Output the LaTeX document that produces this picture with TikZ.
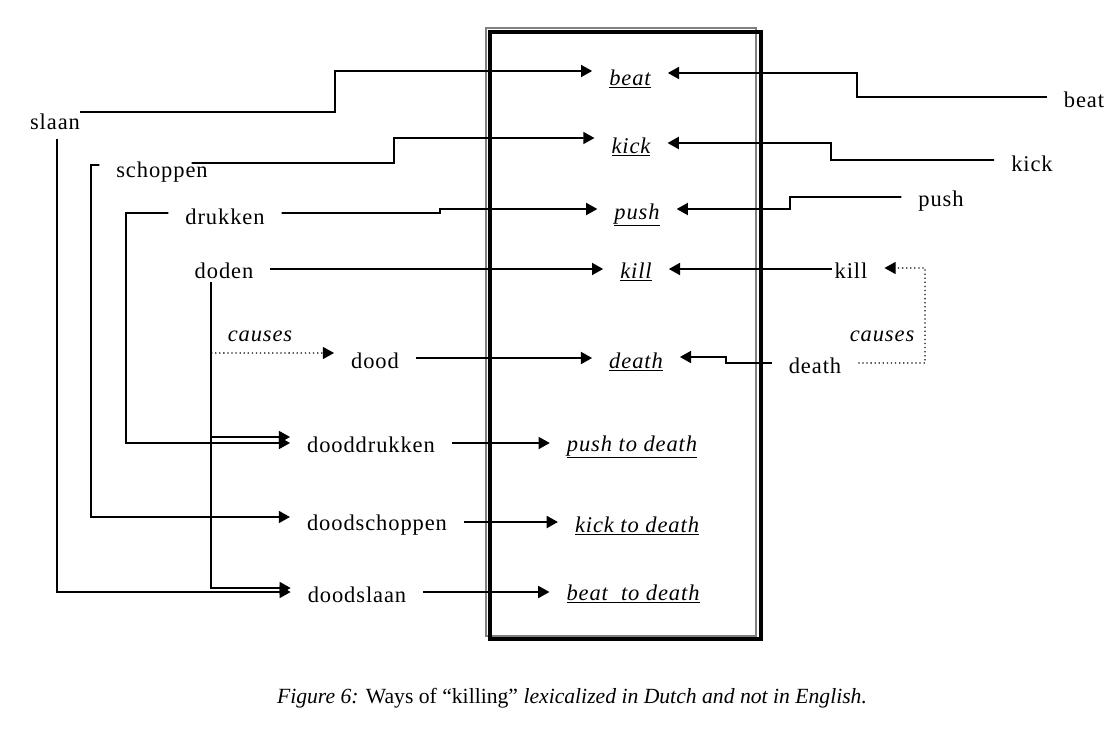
\documentclass[tikz,border=0pt]{standalone}
\usepackage{fontspec}
\setmainfont{Liberation Serif}
\newfontfamily\wordfont{Liberation Serif}[LetterSpace=4]
\usepackage{tikz}
\usetikzlibrary{arrows.meta}

\begin{document}
\begin{tikzpicture}[x=0.025cm,y=-0.025cm,
		word/.style={inner xsep=0.42cm,inner ysep=2pt,font=\wordfont\fontsize{16}{19}\selectfont},
		gloss/.style={word,font=\wordfont\fontsize{16}{19}\selectfont\itshape},
		link/.style={line width=1.3pt},
		arr/.style={link,-{Triangle[length=0.28cm,width=0.3cm]}},
		cause/.style={line width=0.9pt,dotted,-{Triangle[length=0.28cm,width=0.3cm]}}]
			\useasboundingbox (0,0) rectangle (1117,729);
			\draw[gray,line width=1.2pt] (486,28) rectangle (756,636);
			\draw[line width=3pt] (490,32) rectangle (761,639);
			\node[word] (slaan) at (55,122) {slaan};
			\node[word] (schoppen) at (162,172) {schoppen};
			\node[word] (drukken) at (225,217) {drukken};
			\node[word] (doden) at (224,271) {doden};
			\node[word] (dood) at (375,361) {dood};
			\node[word] (dooddrukken) at (371,445) {dooddrukken};
			\node[word] (doodschoppen) at (377,525) {doodschoppen};
			\node[word] (doodslaan) at (357,595) {doodslaan};
			\node[gloss] (g-beat) at (630,79) {\underline{beat}};
			\node[gloss] (g-kick) at (631,147) {\underline{kick}};
			\node[gloss] (g-push) at (637,215) {\underline{push}};
			\node[gloss] (g-kill) at (636,272) {\underline{kill}};
			\node[gloss] (g-death) at (636,362) {\underline{death}};
			\node[gloss] (g-pushtd) at (632,447) {\underline{push to death}};
			\node[gloss] (g-kicktd) at (637,526) {\underline{kick to death}};
			\node[gloss] (g-beattd) at (633,594) {\underline{beat\ \ to death}};
			\node[word] (e-beat) at (1084,100) {beat};
			\node[word] (e-kick) at (1032,164) {kick};
			\node[word] (e-push) at (941,201) {push};
			\node[word] (e-kill) at (851,271) {kill};
			\node[word] (e-death) at (815,366) {death};
			\node[gloss] (causes-nl) at (260,336) {causes};
			\node[gloss] (causes-en) at (882,336) {causes};
			\coordinate (fork-dood) at (211,353);
			\coordinate (fork-druk) at (211,437);
			\draw[arr] ([xshift=-0.42cm,yshift=0.25cm]slaan.east) -- (335,112) |- ([yshift=0.2cm]g-beat.west);
			\draw[arr] ([xshift=-0.825cm,yshift=0.225cm]schoppen.east) -- (394,163) |- ([yshift=0.225cm]g-kick.west);
			\draw[arr] ([yshift=0.1cm]drukken.east) -- (440,213) |- ([yshift=0.15cm]g-push.west);
			\draw[arr] ([yshift=0.05cm]doden.east) coordinate (s) -- (g-kill.west |- s);
			\draw[arr] ([yshift=0.075cm]dood.east) coordinate (s) -- (g-death.west |- s);
			\draw[arr] ([yshift=0.05cm]dooddrukken.east) coordinate (s) -- (g-pushtd.west |- s);
			\draw[arr] ([yshift=0.075cm]doodschoppen.east) coordinate (s) -- (g-kicktd.west |- s);
			\draw[arr] ([yshift=0.075cm]doodslaan.east) coordinate (s) -- (g-beattd.west |- s);
			\draw[arr] ([xshift=0.05cm,yshift=-0.15cm]slaan.south) |- ([yshift=0.075cm]doodslaan.west);
			\draw[arr] ([yshift=0.175cm]schoppen.west) -- (91,165) |- ([yshift=0.2cm]doodschoppen.west);
			\draw[arr] ([yshift=0.1cm]drukken.west) -- (126,213) |- ([yshift=0.05cm]dooddrukken.west);
			\draw[arr] ([xshift=-0.325cm]doden.south) |- ([yshift=0.175cm]doodslaan.west);
			\draw[arr] (fork-druk) -- ([yshift=0.2cm]dooddrukken.west);
			\draw[cause] (fork-dood) -- ([yshift=0.2cm]dood.west);
			\draw[arr] ([yshift=0.075cm]e-beat.west) -- (857,97) |- ([yshift=0.15cm]g-beat.east);
			\draw[arr] ([yshift=0.1cm]e-kick.west) -- (831,160) |- ([yshift=0.1cm]g-kick.east);
			\draw[arr] ([yshift=0.1cm]e-push.west) -- (790,197) |- ([yshift=0.15cm]g-push.east);
			\draw[arr] ([xshift=0.35cm,yshift=0.05cm]e-kill.west) coordinate (s) -- (g-kill.east |- s);
			\draw[arr] ([yshift=0.075cm]e-death.west) -- (726,363) |- ([yshift=0.125cm]g-death.east);
			\draw[cause] ([yshift=0.075cm]e-death.east) -- (925,363) |- ([yshift=0.075cm]e-kill.east);
			\node[font=\fontsize{15.4}{18}\selectfont] (caption) at (572,698) {\textit{Figure 6:} Ways of “killing” \textit{lexicalized in Dutch and not in English.}};
		\end{tikzpicture}
\end{document}
